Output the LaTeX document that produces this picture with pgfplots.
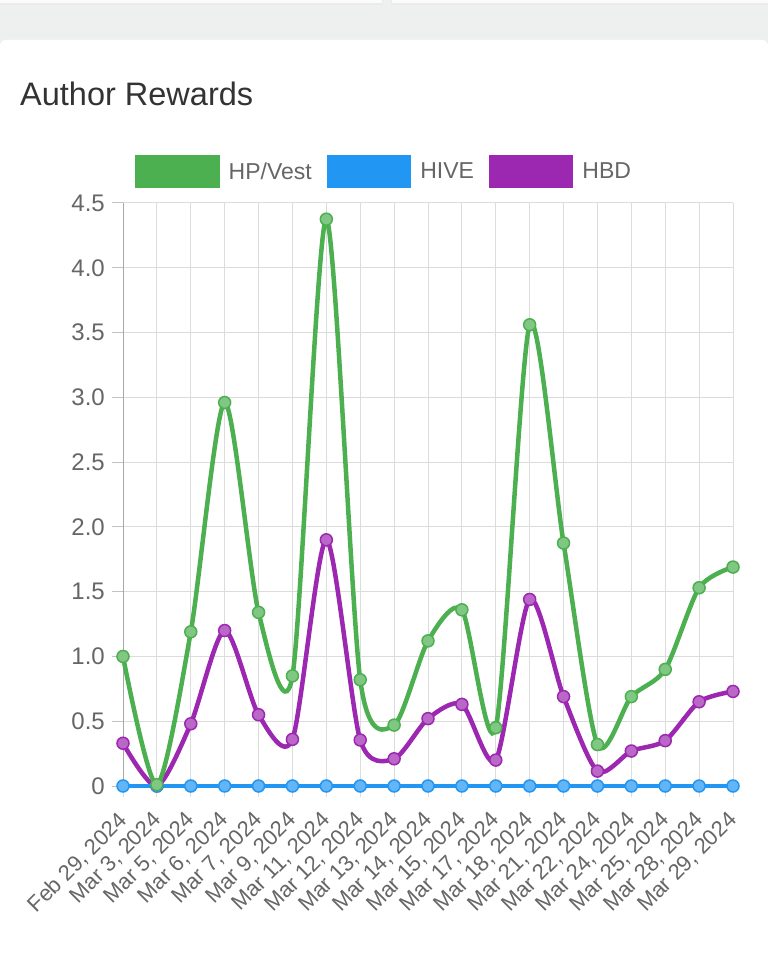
\documentclass[border=0pt]{standalone}
\usepackage{pgfplots}
\usepackage{pgfplotstable}
\pgfplotsset{compat=1.18}
\usepackage{fontspec}
\setmainfont{Liberation Sans}
\definecolor{cgreen}{HTML}{4CAF50}
\definecolor{cblue}{HTML}{2196F3}
\definecolor{cpurple}{HTML}{9C27B0}
\definecolor{cgreenl}{HTML}{81C784}
\definecolor{cbluel}{HTML}{64B5F6}
\definecolor{cpurplel}{HTML}{BA68C8}
\definecolor{bgc}{HTML}{EEF0EF}
\definecolor{gridc}{HTML}{DCDCDC}
\definecolor{axc}{HTML}{A8A8A8}
\definecolor{txt}{HTML}{666666}
\definecolor{ttl}{HTML}{333333}

\pgfplotstableread{
x hp hive hbd
0 1.00 0 0.33
1 0.01 0 0.00
2 1.19 0 0.48
3 2.96 0 1.20
4 1.34 0 0.55
5 0.85 0 0.36
6 4.375 0 1.90
7 0.82 0 0.355
8 0.47 0 0.21
9 1.12 0 0.52
10 1.36 0 0.63
11 0.45 0 0.20
12 3.56 0 1.44
13 1.875 0 0.69
14 0.32 0 0.115
15 0.69 0 0.27
16 0.90 0 0.35
17 1.53 0 0.65
18 1.69 0 0.73
}\datatable

\begin{document}
\begin{tikzpicture}[x=1pt,y=1pt]
\path[use as bounding box] (0,0) rectangle (768,956);
\fill[bgc] (0,0) rectangle (768,956);
\fill[black!8] (0,951) rectangle (383,956);
\fill[white!97!gray] (0,953) rectangle (382,956);
\fill[black!8] (391,951) rectangle (768,956);
\fill[white!97!gray] (392,953) rectangle (768,956);
\fill[black!6, rounded corners=6pt] (0,-10) rectangle (768,917);
\fill[white, rounded corners=6pt] (0,-10) rectangle (768,916);
\node[anchor=base west, inner sep=0pt, text=ttl, font=\fontsize{32.5}{38}\selectfont] at (20,850) {Author Rewards};

\begin{axis}[
  at={(123pt,170pt)}, anchor=south west,
  scale only axis, width=610pt, height=583pt,
  xmin=0, xmax=18, ymin=0, ymax=4.5,
  clip=false,
  axis x line*=bottom, axis y line*=left,
  x axis line style={draw=none},
  y axis line style={axc, line width=1pt},
  grid=major, grid style={gridc, line width=1pt},
  tick align=outside, major tick length=11pt,
  xtick style={gridc, line width=1pt},
  ytick style={axc!70, line width=1pt},
  xtick={0,...,18},
  xticklabels={{Feb 29, 2024},{Mar 3, 2024},{Mar 5, 2024},{Mar 6, 2024},{Mar 7, 2024},{Mar 9, 2024},{Mar 11, 2024},{Mar 12, 2024},{Mar 13, 2024},{Mar 14, 2024},{Mar 15, 2024},{Mar 17, 2024},{Mar 18, 2024},{Mar 21, 2024},{Mar 22, 2024},{Mar 24, 2024},{Mar 25, 2024},{Mar 28, 2024},{Mar 29, 2024}},
  ytick={0,0.5,...,4.5},
  yticklabels={0,0.5,1.0,1.5,2.0,2.5,3.0,3.5,4.0,4.5},
  xticklabel style={rotate=45, anchor=north east, inner sep=1pt, text=txt, font=\fontsize{22}{26}\selectfont, xshift=-12.5pt, yshift=-4pt},
  yticklabel style={text=txt, font=\fontsize{24}{28}\selectfont, inner sep=2pt, xshift=-5pt},
  legend columns=-1, reverse legend,
  legend cell align=left,
  legend style={at={(0.0197,1.054)}, anchor=west, draw=none, fill=none, inner sep=0pt,
    font=\fontsize{23}{26}\selectfont, text=txt,
    nodes={inner xsep=0pt, inner ysep=2pt},
    /tikz/every odd column/.append style={column sep=9pt},
    /tikz/every even column/.append style={column sep=15pt}},
  every axis plot/.append style={smooth, tension=0.45, line width=4.5pt, mark=*, mark size=6pt},
]
\addplot[cpurple, mark options={fill=cpurplel, draw=cpurple, line width=1.5pt},
  legend image code/.code={\fill[cpurple] (0pt,-14.5pt) rectangle (80pt,14.5pt);}]
  table[x=x, y=hbd] {\datatable};
\addlegendentry{HBD}
\addplot[cblue, mark options={fill=cbluel, draw=cblue, line width=1.5pt},
  legend image code/.code={\fill[cblue] (0pt,-14.5pt) rectangle (80pt,14.5pt);}]
  table[x=x, y=hive] {\datatable};
\addlegendentry{HIVE}
\addplot[cgreen, mark options={fill=cgreenl, draw=cgreen, line width=1.5pt},
  legend image code/.code={\fill[cgreen] (0pt,-14.5pt) rectangle (80pt,14.5pt);}]
  table[x=x, y=hp] {\datatable};
\addlegendentry{HP/Vest}
\end{axis}
\end{tikzpicture}
\end{document}
